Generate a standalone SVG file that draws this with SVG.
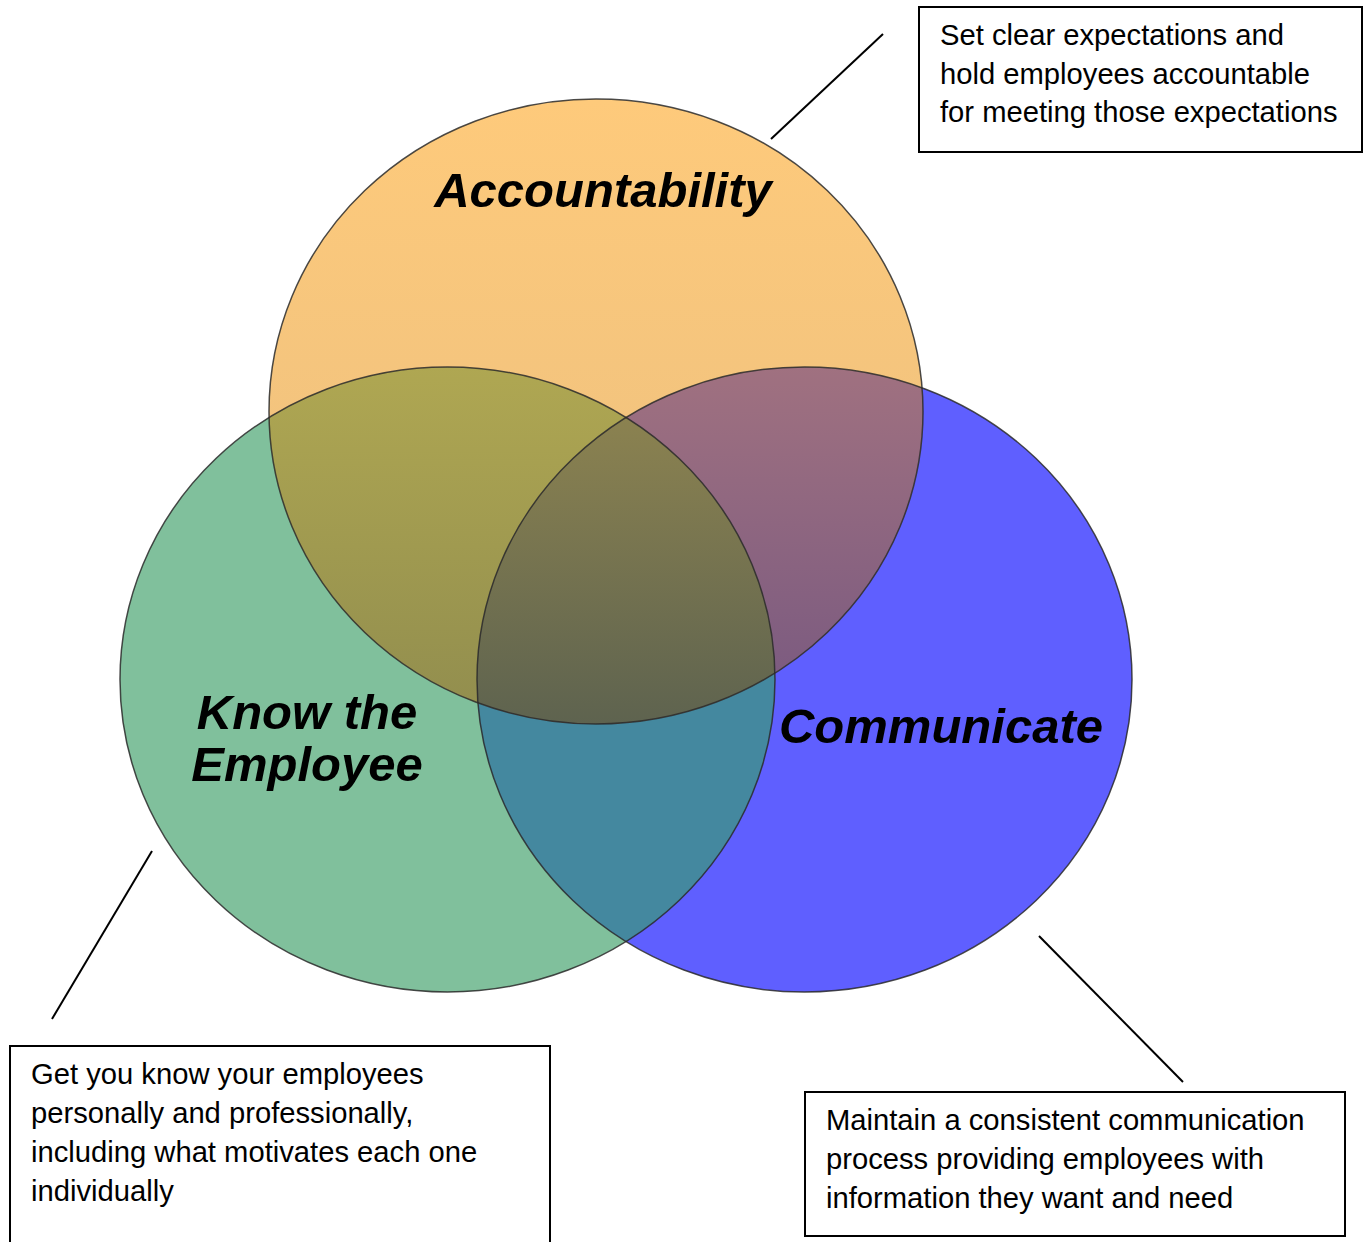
<svg xmlns="http://www.w3.org/2000/svg" width="1365" height="1242" viewBox="0 0 1365 1242">
  <style>
    .title { font-family: "Liberation Sans", Arial, sans-serif; font-weight: bold; font-style: italic; font-size: 49px; fill: #000; text-anchor: middle; }
    .note { font-family: "Liberation Sans", Arial, sans-serif; font-size: 29.2px; fill: #000; }
    .box { fill: #fff; stroke: #000; stroke-width: 2; }
    .edge { fill: none; stroke: #2a2a2a; stroke-opacity: 0.85; stroke-width: 1.5; }
    .leader { stroke: #000; stroke-width: 2; fill: none; }
  </style>
  <defs>
    <clipPath id="clipG"><ellipse cx="447.5" cy="679.5" rx="327.5" ry="312.5"/></clipPath>
    <clipPath id="clipB"><ellipse cx="804.5" cy="679.5" rx="327.5" ry="312.5"/></clipPath>
    <linearGradient id="gradA" gradientUnits="userSpaceOnUse" x1="0" y1="99" x2="0" y2="724">
      <stop offset="0" stop-color="#FECA7B"/>
      <stop offset="1" stop-color="#E9BE80"/>
    </linearGradient>
    <linearGradient id="gradAG" gradientUnits="userSpaceOnUse" x1="0" y1="367" x2="0" y2="724">
      <stop offset="0" stop-color="#AFA752"/>
      <stop offset="1" stop-color="#918D4E"/>
    </linearGradient>
    <linearGradient id="gradAB" gradientUnits="userSpaceOnUse" x1="0" y1="367" x2="0" y2="724">
      <stop offset="0" stop-color="#A07180"/>
      <stop offset="1" stop-color="#775880"/>
    </linearGradient>
    <linearGradient id="gradAGB" gradientUnits="userSpaceOnUse" x1="0" y1="418" x2="0" y2="724">
      <stop offset="0" stop-color="#8B8250"/>
      <stop offset="1" stop-color="#5E634F"/>
    </linearGradient>
  </defs>

  <!-- Venn circles -->
  <g id="know-the-employee">
    <ellipse cx="447.5" cy="679.5" rx="327.5" ry="312.5" fill="#80C09C"/>
  </g>
  <g id="communicate">
    <ellipse cx="804.5" cy="679.5" rx="327.5" ry="312.5" fill="#5F5FFF"/>
    <!-- shared area with the green circle -->
    <ellipse cx="804.5" cy="679.5" rx="327.5" ry="312.5" fill="#44889F" clip-path="url(#clipG)"/>
  </g>
  <g id="accountability">
    <ellipse cx="596" cy="411.5" rx="327" ry="312.5" fill="url(#gradA)"/>
    <ellipse cx="596" cy="411.5" rx="327" ry="312.5" fill="url(#gradAG)" clip-path="url(#clipG)"/>
    <ellipse cx="596" cy="411.5" rx="327" ry="312.5" fill="url(#gradAB)" clip-path="url(#clipB)"/>
    <g clip-path="url(#clipG)">
      <ellipse cx="596" cy="411.5" rx="327" ry="312.5" fill="url(#gradAGB)" clip-path="url(#clipB)"/>
    </g>
  </g>

  <!-- circle outlines -->
  <g id="outlines">
    <ellipse class="edge" cx="447.5" cy="679.5" rx="327.5" ry="312.5"/>
    <ellipse class="edge" cx="804.5" cy="679.5" rx="327.5" ry="312.5"/>
    <ellipse class="edge" cx="596" cy="411.5" rx="327" ry="312.5"/>
  </g>

  <!-- circle titles -->
  <g id="titles">
    <text class="title" x="603" y="207">Accountability</text>
    <text class="title" x="941" y="743">Communicate</text>
    <text class="title" x="307" y="729">Know the</text>
    <text class="title" x="307" y="781">Employee</text>
  </g>

  <!-- leader lines from circles to notes -->
  <g id="connectors">
    <line class="leader" x1="771" y1="139" x2="883" y2="34"/>
    <line class="leader" x1="152" y1="851" x2="52" y2="1019"/>
    <line class="leader" x1="1039" y1="936" x2="1183" y2="1082"/>
  </g>

  <!-- notes -->
  <g id="note-accountability">
    <rect class="box" x="919" y="7" width="443" height="145"/>
    <text class="note" x="940" y="45">Set clear expectations and</text>
    <text class="note" x="940" y="84">hold employees accountable</text>
    <text class="note" x="940" y="122">for meeting those expectations</text>
  </g>
  <g id="note-know">
    <rect class="box" x="10" y="1046" width="540" height="210"/>
    <text class="note" x="31" y="1084">Get you know your employees</text>
    <text class="note" x="31" y="1123">personally and professionally,</text>
    <text class="note" x="31" y="1162">including what motivates each one</text>
    <text class="note" x="31" y="1201">individually</text>
  </g>
  <g id="note-communicate">
    <rect class="box" x="805" y="1092" width="540" height="144"/>
    <text class="note" x="826" y="1130">Maintain a consistent communication</text>
    <text class="note" x="826" y="1169">process providing employees with</text>
    <text class="note" x="826" y="1208">information they want and need</text>
  </g>
</svg>
